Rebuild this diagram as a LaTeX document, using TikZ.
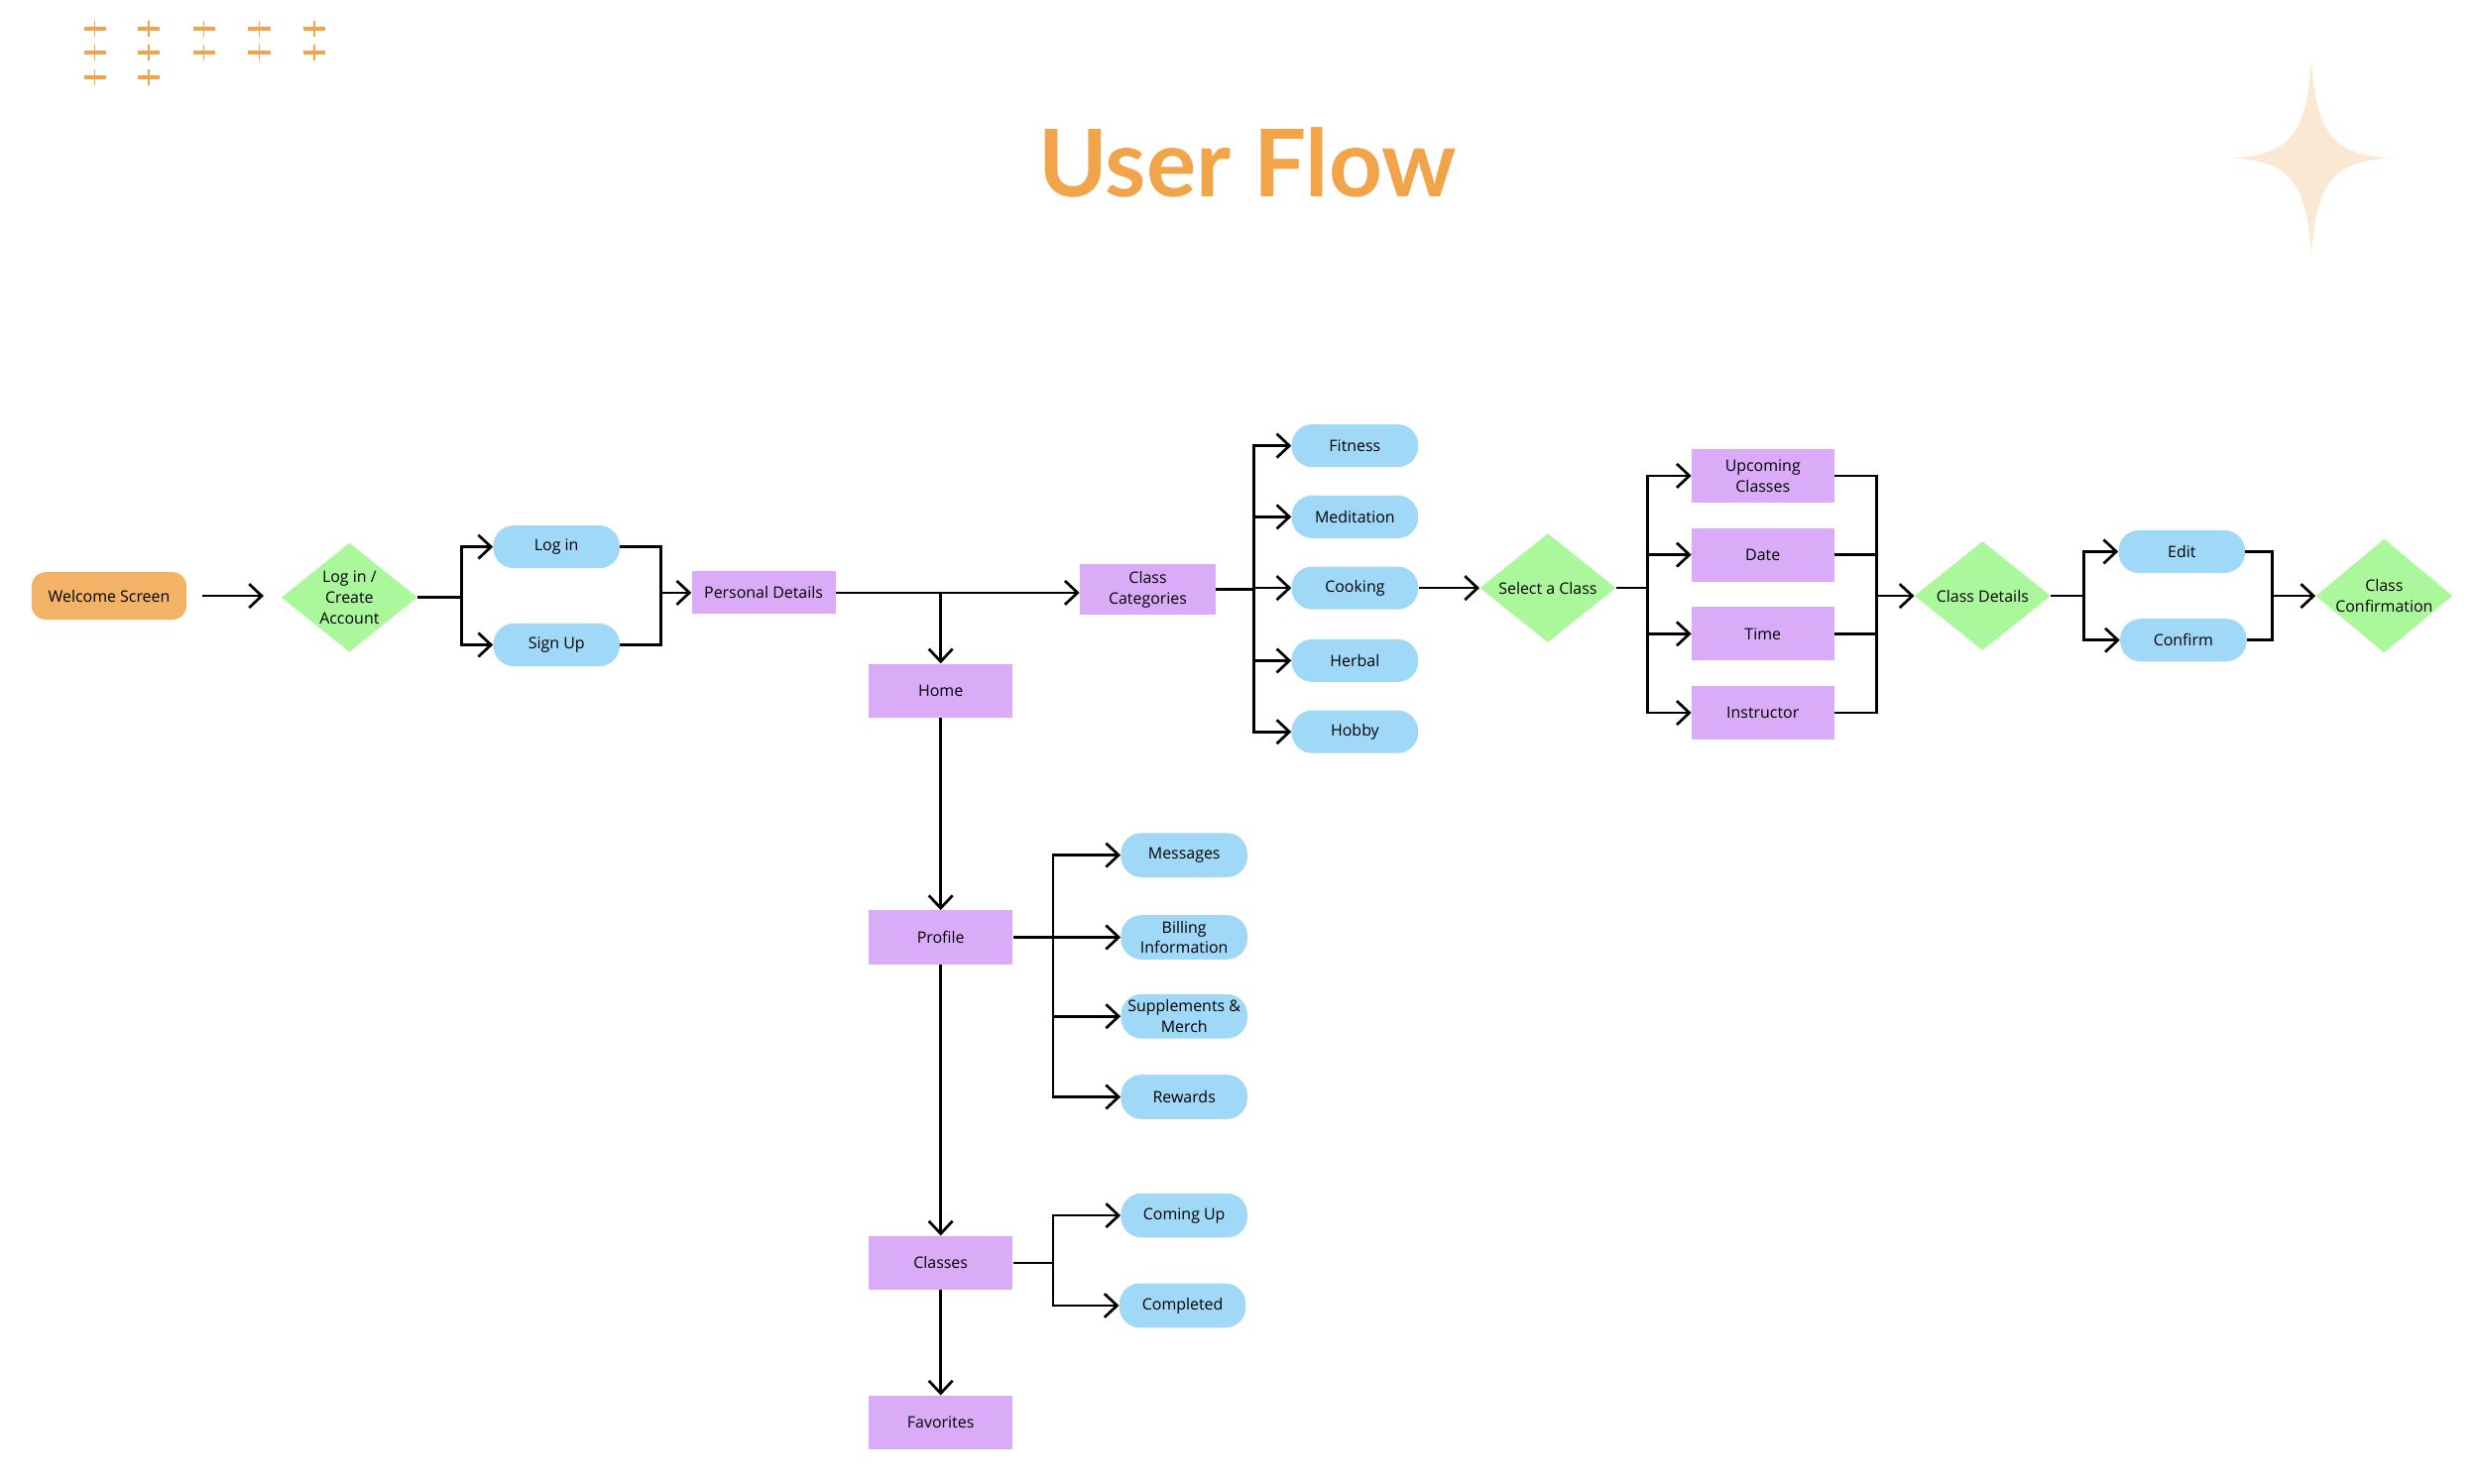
\documentclass[tikz,border=0pt]{standalone}
\usepackage{fontspec}
\setmainfont{Open Sans}
\newfontfamily\titlefont{Lato}
\usetikzlibrary{shapes.geometric,arrows.meta}

\definecolor{flowOrange}{HTML}{F2A44B}
\definecolor{startOrange}{HTML}{F2B366}
\definecolor{screenPurple}{HTML}{DAACF8}
\definecolor{choiceBlue}{HTML}{A0D8F7}
\definecolor{decisionGreen}{HTML}{ABF79C}
\definecolor{starPeach}{HTML}{FBE8D2}

\begin{document}
\begin{tikzpicture}[x=1pt,y=-1pt,
    font=\fontsize{10}{13}\selectfont,
    link/.style={line width=1.7pt},
    flow/.style={link,-{Straight Barb[length=8pt,width=15pt]}},
    screen/.style={fill=screenPurple,minimum width=91pt,minimum height=34pt,inner sep=1pt,align=center},
    choice/.style={fill=choiceBlue,rounded corners=13pt,minimum width=80pt,minimum height=27pt,inner sep=1pt,align=center},
    decision/.style={diamond,fill=decisionGreen,aspect=1.2,inner sep=0pt,minimum width=86pt,minimum height=69pt,align=center}]
    \useasboundingbox (0,0) rectangle (1568,938.9);

    % Decoration: plus marks, title and star
    \foreach \x in {60,94,129,164,199}
        \foreach \y in {18,33} {
            \draw[flowOrange,line width=2.4pt] (\x-7,\y) -- (\x+7,\y);
            \draw[flowOrange,line width=1pt] (\x,\y-5) -- (\x,\y+5);
        }
    \foreach \x in {60,94} {
        \draw[flowOrange,line width=2.4pt] (\x-7,49) -- (\x+7,49);
        \draw[flowOrange,line width=1pt] (\x,44) -- (\x,54);
    }
    \node[font=\titlefont\bfseries\fontsize{59}{66}\selectfont,text=flowOrange] (title) at (789,103) {User Flow};
    \fill[starPeach] (1462,38) .. controls (1465,85) and (1476,98) .. (1512,100)
        .. controls (1476,102) and (1465,115) .. (1462,162)
        .. controls (1459,115) and (1448,102) .. (1412,100)
        .. controls (1448,98) and (1459,85) .. (1462,38) -- cycle;

    % Log in part
    \node[fill=startOrange,rounded corners=9pt,minimum width=98pt,minimum height=30pt] (welcome) at (69,377) {Welcome Screen};
    \node[decision] (auth) at (221,378) {Log in /\\Create\\Account};
    \node[choice] (logIn) at (352,346) {Log in};
    \node[choice] (signUp) at (352,408) {Sign Up};
    \node[screen,minimum height=27pt] (personal) at (483,375) {Personal Details};

    % Class booking part
    \node[screen,minimum width=86pt,minimum height=32pt] (classCat) at (726,373) {Class\\Categories};
    \node[choice] (fitness) at (857,282) {Fitness};
    \node[choice] (meditation) at (857,327) {Meditation};
    \node[choice] (cooking) at (857,372) {Cooking};
    \node[choice] (herbal) at (857,418) {Herbal};
    \node[choice] (hobby) at (857,463) {Hobby};
    \node[decision] (select) at (979,372) {Select a Class};
    \node[screen,minimum width=90pt] (upcoming) at (1115,301) {Upcoming\\Classes};
    \node[screen,minimum width=90pt] (date) at (1115,351) {Date};
    \node[screen,minimum width=90pt] (time) at (1115,401) {Time};
    \node[screen,minimum width=90pt] (instructor) at (1115,451) {Instructor};
    \node[decision] (details) at (1254,377) {Class Details};
    \node[choice] (edit) at (1380,349) {Edit};
    \node[choice] (confirm) at (1381,405) {Confirm};
    \node[decision] (confirmation) at (1508,377) {Class\\Confirmation};

    % Home part
    \node[screen] (home) at (595,437) {Home};
    \node[screen] (profile) at (595,593) {Profile};
    \node[choice,minimum height=28pt] (messages) at (749,541) {Messages};
    \node[choice,minimum height=28pt] (billing) at (749,593) {Billing\\Information};
    \node[choice,minimum height=28pt] (supplements) at (749,643) {Supplements \&\\Merch};
    \node[choice,minimum height=28pt] (rewards) at (749,694) {Rewards};
    \node[screen] (classes) at (595,799) {Classes};
    \node[choice,minimum height=28pt] (comingUp) at (749,769) {Coming Up};
    \node[choice,minimum height=28pt] (completed) at (748,826) {Completed};
    \node[screen] (favorites) at (595,900) {Favorites};

    % Joints of the split lines
    \coordinate (jAuth) at (292,378);
    \coordinate (jPersonal) at (418,375);
    \coordinate (jCat) at (793,373);
    \coordinate (jSelect) at (1042,372);
    \coordinate (jDetails) at (1187,377);
    \coordinate (jEdit) at (1318,377);
    \coordinate (jConfirm) at (1437,377);
    \coordinate (jProfile) at (666,593);
    \coordinate (jClasses) at (666,799);

    % Connectors of the log in part
    \draw[flow,shorten <=10pt,shorten >=11pt] (welcome) -- (welcome -| auth.west);
    \draw[link] (auth.east) -- (jAuth);
    \draw[flow] (jAuth) |- (logIn.west);
    \draw[flow] (jAuth) |- (signUp.west);
    \draw[link] (logIn.east) -| (jPersonal);
    \draw[link] (signUp.east) -| (jPersonal);
    \draw[flow] (jPersonal) -- (personal.west);

    % Connectors of the class booking part
    \draw[flow] (personal.east) -- (personal.east -| classCat.west);
    \draw[link] (classCat.east) -- (jCat);
    \foreach \n in {fitness,meditation,cooking,herbal,hobby}
        \draw[flow] (jCat) |- (\n.west);
    \draw[flow] (cooking.east) -- (select.west);
    \draw[link] (select.east) -- (jSelect);
    \foreach \n in {upcoming,date,time,instructor} {
        \draw[flow] (jSelect) |- (\n.west);
        \draw[link] (\n.east) -| (jDetails);
    }
    \draw[flow] (jDetails) -- (details.west);
    \draw[link] (details.east) -- (jEdit);
    \foreach \n in {edit,confirm} {
        \draw[flow] (jEdit) |- (\n.west);
        \draw[link] (\n.east) -| (jConfirm);
    }
    \draw[flow] (jConfirm) -- (confirmation.west);

    % Connectors of the home part
    \draw[flow] (home.north |- personal.east) -- (home.north);
    \draw[flow] (home) -- (profile);
    \draw[flow] (profile) -- (classes);
    \draw[flow] (classes) -- (favorites);
    \draw[link] (profile.east) -- (jProfile);
    \foreach \n in {messages,billing,supplements,rewards}
        \draw[flow] (jProfile) |- (\n.west);
    \draw[link] (classes.east) -- (jClasses);
    \foreach \n in {comingUp,completed}
        \draw[flow] (jClasses) |- (\n.west);
\end{tikzpicture}
\end{document}
